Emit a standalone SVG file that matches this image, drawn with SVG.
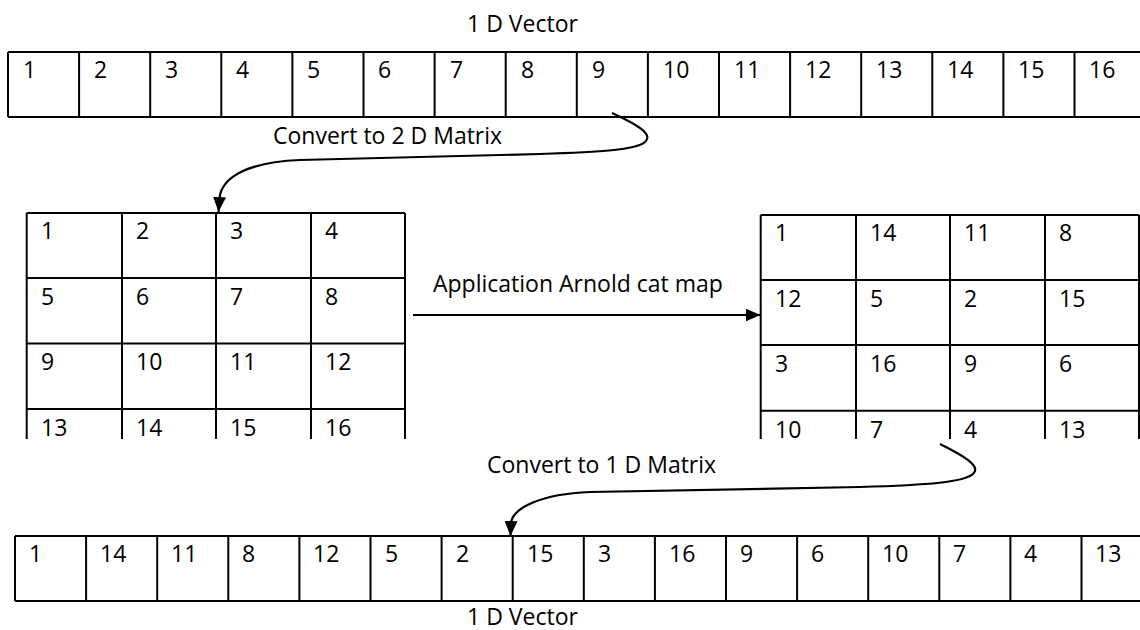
<svg xmlns="http://www.w3.org/2000/svg" width="1140" height="630" viewBox="0 0 1140 630">
<style>
  text { font-family: "Open Sans", "Liberation Sans", sans-serif; font-size: 23px; fill: #000; }
  .ln { stroke: #000; stroke-width: 2; fill: none; }
  .cn { stroke: #000; stroke-width: 2.2; fill: none; }
</style>
<defs>
  <marker id="ah" markerUnits="userSpaceOnUse" markerWidth="15" markerHeight="13" viewBox="0 0 15 13" refX="15" refY="6.5" orient="auto">
    <path d="M0,0 L15,6.5 L0,13 z" fill="#000"/>
  </marker>
  <clipPath id="clipM"><rect x="0" y="0" width="1140" height="439"/></clipPath>
</defs>
<rect width="1140" height="630" fill="#fff"/>

<text id="title-top" x="467" y="32">1 D Vector</text>

<g id="vector-top">
  <path class="ln" d="M8,52 H1140 M8,117 H1140 M8,52 V117 M79.1,52 V117 M150.2,52 V117 M221.3,52 V117 M292.4,52 V117 M363.5,52 V117 M434.6,52 V117 M505.7,52 V117 M576.8,52 V117 M647.9,52 V117 M719,52 V117 M790.1,52 V117 M861.2,52 V117 M932.3,52 V117 M1003.4,52 V117 M1074.5,52 V117"/>
  <text x="23" y="78">1</text>
  <text x="94" y="78">2</text>
  <text x="165" y="78">3</text>
  <text x="236" y="78">4</text>
  <text x="307" y="78">5</text>
  <text x="378" y="78">6</text>
  <text x="450" y="78">7</text>
  <text x="521" y="78">8</text>
  <text x="592" y="78">9</text>
  <text x="663" y="78">10</text>
  <text x="734" y="78">11</text>
  <text x="805" y="78">12</text>
  <text x="876" y="78">13</text>
  <text x="947" y="78">14</text>
  <text x="1018" y="78">15</text>
  <text x="1089" y="78">16</text>
</g>

<g id="matrix-left" clip-path="url(#clipM)">
  <path class="ln" d="M26.7,213 H405 M26.7,278 H405 M26.7,343.5 H405 M26.7,409 H405 M26.7,213 V440 M122,213 V440 M216,213 V440 M311,213 V440 M405,213 V440"/>
  <text x="41" y="239">1</text><text x="136" y="239">2</text><text x="230" y="239">3</text><text x="325" y="239">4</text>
  <text x="41" y="304.5">5</text><text x="136" y="304.5">6</text><text x="230" y="304.5">7</text><text x="325" y="304.5">8</text>
  <text x="41" y="370">9</text><text x="136" y="370">10</text><text x="230" y="370">11</text><text x="325" y="370">12</text>
  <text x="41" y="436">13</text><text x="136" y="436">14</text><text x="230" y="436">15</text><text x="325" y="436">16</text>
</g>

<g id="matrix-right" clip-path="url(#clipM)">
  <path class="ln" d="M760.7,215 H1139 M760.7,280 H1139 M760.7,345 H1139 M760.7,410.7 H1139 M760.7,215 V440 M856,215 V440 M950,215 V440 M1045,215 V440 M1139,215 V440"/>
  <text x="775" y="241">1</text><text x="870" y="241">14</text><text x="964" y="241">11</text><text x="1059" y="241">8</text>
  <text x="775" y="306.5">12</text><text x="870" y="306.5">5</text><text x="964" y="306.5">2</text><text x="1059" y="306.5">15</text>
  <text x="775" y="372">3</text><text x="870" y="372">16</text><text x="964" y="372">9</text><text x="1059" y="372">6</text>
  <text x="775" y="438">10</text><text x="870" y="438">7</text><text x="964" y="438">4</text><text x="1059" y="438">13</text>
</g>

<g id="vector-bottom">
  <path class="ln" d="M15,536 H1140 M15,601 H1140 M15,536 V601 M86.1,536 V601 M157.2,536 V601 M228.3,536 V601 M299.4,536 V601 M370.5,536 V601 M441.6,536 V601 M512.7,536 V601 M583.8,536 V601 M654.9,536 V601 M726,536 V601 M797.1,536 V601 M868.2,536 V601 M939.3,536 V601 M1010.4,536 V601 M1081.5,536 V601"/>
  <text x="29" y="562">1</text>
  <text x="100" y="562">14</text>
  <text x="171" y="562">11</text>
  <text x="242" y="562">8</text>
  <text x="313" y="562">12</text>
  <text x="385" y="562">5</text>
  <text x="456" y="562">2</text>
  <text x="527" y="562">15</text>
  <text x="598" y="562">3</text>
  <text x="669" y="562">16</text>
  <text x="740" y="562">9</text>
  <text x="811" y="562">6</text>
  <text x="882" y="562">10</text>
  <text x="953" y="562">7</text>
  <text x="1024" y="562">4</text>
  <text x="1095" y="562">13</text>
</g>

<text id="title-bottom" x="467" y="625">1 D Vector</text>

<g id="connectors">
  <path class="cn" marker-end="url(#ah)" d="M612,113 C636,124 654,134 645,142 C636,150 600,152 540,154 L300,160 C250,162 222,176 219.5,198 L218.5,212"/>
  <text x="273" y="144">Convert to 2 D Matrix</text>
  <path class="cn" marker-end="url(#ah)" d="M413,315 H760.5"/>
  <text x="433" y="292">Application Arnold cat map</text>
  <path class="cn" marker-end="url(#ah)" d="M940,444 C962,455 982,466 973,474 C964,482 930,485 860,487 L590,492 C540,494 514,508 511,522 L510.5,536"/>
  <text x="487" y="473">Convert to 1 D Matrix</text>
</g>
</svg>
